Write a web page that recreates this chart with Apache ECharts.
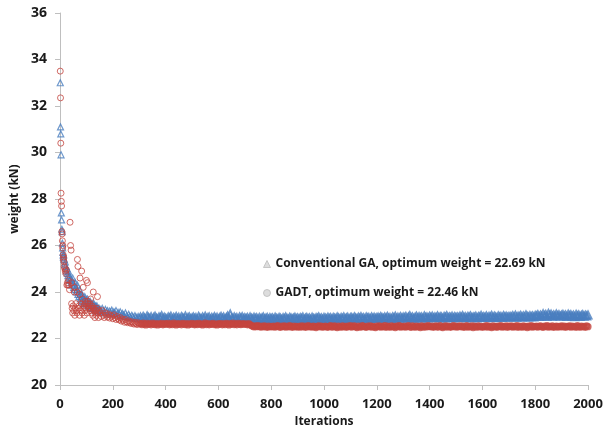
<!DOCTYPE html>
<html><head><meta charset="utf-8">
<script src="https://cdn.jsdelivr.net/npm/echarts@6/dist/echarts.min.js"></script>
<style>html,body{margin:0;padding:0;background:#fff}#c{width:608px;height:434px}</style>
</head><body><div id="c"></div>
<script>
const seriesNames = ['Conventional GA, optimum weight = 22.69 kN', 'GADT, optimum weight = 22.46 kN'];
const xTicks = [0, 200, 400, 600, 800, 1000, 1200, 1400, 1600, 1800, 2000];
const yTicks = [20, 22, 24, 26, 28, 30, 32, 34, 36];

// Conventional GA: early iterations
const gaHeadIter = [1,2,3,4,5,6,7,8,9,10,11,12,13,
  14,16,18,20,22,24,26,28,30,32,34,36,38,40,42,44,46,48,50,52,54,56,58,60,62,64,66,68,70,72,74,76,78,80,82,84,86,88,90,92,94,96,98,100,102,104,106,108,110,112,114,116,118,120,122,124,126,128,130,132,134,136,138,140,142,144,146,148,150,
  152,156,160,164,168,172,176,180,184,188,192,196,200,204,208,212,216,220,224,228,232,236,240,244,248,252,256,260,264,268,272,276,280,284,288,292,296,300];
const gaHeadWeight = [33.0,31.1,30.8,29.9,27.4,27.1,26.7,26.6,26.1,25.9,25.7,25.6,25.5,
  25.6,25.4,25.2,25.3,25.1,24.9,25.0,24.8,24.7,24.9,
  24.6,24.7,24.5,24.6,24.4,24.5,24.3,24.6,24.4,24.2,
  24.3,24.1,24.4,24.2,24.0,24.1,24.3,23.9,24.0,23.8,
  24.1,23.9,23.7,23.8,23.9,23.6,23.7,23.8,23.5,23.6,
  23.8,23.5,23.7,23.6,23.5,23.7,23.4,23.6,23.5,23.4,
  23.6,23.3,23.5,23.4,23.5,23.3,23.4,23.5,23.3,23.4,
  23.2,23.4,23.3,23.4,23.2,23.3,23.2,23.3,23.2,
  23.25,23.15,23.3,23.2,23.1,23.25,23.15,23.2,23.05,23.18,23.12,23.22,23.08,23.15,23.1,23.2,23.02,23.12,23.06,23.15,
  22.98,23.08,23.02,22.95,23.1,22.98,22.92,23.04,22.96,22.9,23.0,22.94,22.88,22.98,22.92,22.86,22.95,22.9];

// GADT: early iterations
const gadtHeadIter = [1,2,3,4,5,6,7,8,9,10,11,12,13,14,15,16,
  18,20,22,24,26,28,30,32,34,36,38,40,42,44,46,48,50,52,54,56,58,60,62,64,66,68,70,72,74,76,78,80,82,84,86,88,90,92,94,96,98,100,102,104,106,108,110,112,114,116,118,120,122,124,126,128,130,132,134,136,138,140,142,144,146,148,
  45,55,65,75,85,95,105,115,125,135,
  152,156,160,164,168,172,176,180,184,188,192,196,200,204,208,212,216,220,224,228,232,236,240,244,248,252,256,260,264,268,272,276,280,284,288,292,296,300];
const gadtHeadWeight = [33.5,32.35,30.4,28.25,27.9,27.7,26.6,26.5,26.2,25.9,26.0,25.6,25.4,25.5,25.3,25.1,
  25.0,24.9,24.8,24.95,24.3,24.4,24.3,24.5,24.3,24.1,
  27.0,26.0,25.8,23.5,23.3,23.1,23.4,23.2,24.0,23.0,
  23.3,23.5,23.2,23.1,25.4,25.1,23.3,23.4,23.0,24.6,
  23.2,23.5,24.9,23.1,23.3,24.2,23.4,23.0,23.2,23.5,
  23.3,24.5,23.1,24.4,23.6,23.4,23.3,23.5,23.2,23.7,
  23.3,23.1,23.4,23.0,24.0,23.2,23.3,22.9,23.1,23.2,
  23.0,23.3,23.8,23.1,22.9,23.2,
  24.4,24.2,24.0,23.9,23.7,23.6,23.5,23.4,23.3,23.2,
  23.1,22.95,23.2,23.0,22.9,23.1,23.0,22.92,23.05,22.88,23.0,22.95,22.85,23.02,22.9,22.82,22.95,22.86,22.8,22.9,
  22.75,22.84,22.78,22.7,22.82,22.72,22.68,22.76,22.7,22.65,22.72,22.66,22.62,22.7,22.64,22.6,22.68,22.63];

// Later iterations: one reading every 5 iterations from 305 to 2000
const tailStart = 305, tailStep = 5;
const gaTailWeight = [
22.92,22.85,22.95,22.88,22.83,22.97,22.90,22.86,22.94,22.82,22.90,22.96,22.87,22.84,22.93,22.89,22.98,22.85,22.91,22.87,
22.84,22.93,22.88,22.96,22.82,22.90,22.87,22.95,22.85,22.91,22.83,22.94,22.89,22.86,22.97,22.84,22.90,22.92,22.85,22.88,
22.93,22.86,22.90,22.83,22.95,22.88,22.84,22.92,22.87,22.96,22.85,22.89,22.93,22.82,22.90,22.87,22.94,22.86,22.91,22.84,
22.89,22.95,22.86,22.92,22.84,22.90,22.97,22.87,23.05,22.88,22.85,22.93,22.86,22.90,22.83,22.92,22.88,22.94,22.85,22.89,
22.86,22.90,22.83,22.92,22.87,22.84,22.91,22.86,22.89,22.82,22.90,22.85,22.88,22.93,22.84,22.87,22.90,22.83,22.89,22.86,
22.88,22.83,22.91,22.86,22.84,22.90,22.87,22.82,22.89,22.85,22.92,22.86,22.83,22.90,22.88,22.84,22.87,22.91,22.85,22.88,
22.84,22.89,22.86,22.92,22.83,22.87,22.90,22.85,22.88,22.82,22.91,22.86,22.84,22.89,22.87,22.93,22.85,22.88,22.83,22.90,
22.87,22.84,22.91,22.86,22.89,22.83,22.90,22.87,22.85,22.92,22.88,22.84,22.90,22.86,22.93,22.85,22.88,22.91,22.84,22.89,
22.90,22.86,22.93,22.88,22.85,22.91,22.87,22.94,22.86,22.89,22.84,22.92,22.88,22.90,22.85,22.93,22.87,22.91,22.86,22.89,
22.91,22.87,22.94,22.89,22.86,22.92,22.88,22.95,22.87,22.90,22.85,22.93,22.89,22.96,22.86,22.91,22.88,22.94,22.87,22.92,
22.89,22.95,22.87,22.92,22.98,22.88,22.93,22.86,22.91,22.96,22.88,22.94,22.89,22.92,22.87,22.97,22.90,22.93,22.88,22.95,
22.91,22.96,22.88,22.93,22.90,22.97,22.89,22.94,22.92,22.87,22.95,22.91,22.98,22.89,22.93,22.90,22.96,22.88,22.94,22.91,
22.93,22.89,22.96,22.91,22.98,22.90,22.94,22.88,22.95,22.92,22.97,22.89,22.93,22.91,22.96,22.88,22.94,22.92,22.99,22.90,
22.94,22.91,22.97,22.89,22.95,22.92,22.99,22.90,22.96,22.93,22.89,22.97,22.92,22.95,22.90,22.98,22.93,22.96,22.91,22.94,
22.95,22.92,22.98,22.93,23.00,22.91,22.96,22.94,22.99,22.92,22.97,22.93,23.01,22.95,22.92,22.98,22.94,22.97,22.93,22.99,
22.97,23.02,22.95,23.00,22.96,23.06,22.98,23.03,22.95,23.08,22.99,23.04,22.96,23.01,22.97,23.05,22.98,23.02,22.96,23.00,
23.03,22.97,23.01,22.95,23.04,22.98,23.02,22.96,23.00,22.94,23.03,22.97,23.01,22.95,22.99,23.02,22.96,23.00,22.97,23.01];
const gadtTailWeight = [
22.64,22.60,22.66,22.62,22.58,22.65,22.61,22.63,22.59,22.66,22.62,22.60,22.64,22.58,22.63,22.61,22.65,22.59,22.62,22.64,
22.61,22.65,22.59,22.63,22.60,22.66,22.62,22.58,22.64,22.61,22.63,22.59,22.65,22.62,22.60,22.64,22.58,22.63,22.61,22.65,
22.62,22.59,22.64,22.60,22.65,22.61,22.63,22.58,22.62,22.66,22.60,22.64,22.59,22.63,22.61,22.65,22.60,22.62,22.58,22.64,
22.61,22.64,22.59,22.63,22.60,22.65,22.62,22.58,22.64,22.61,22.66,22.60,22.63,22.59,22.65,22.62,22.60,22.64,22.61,22.63,
22.62,22.59,22.64,22.60,22.56,22.53,22.50,22.54,22.51,22.55,22.52,22.49,22.53,22.50,22.54,22.51,22.48,22.53,22.50,22.52,
22.50,22.53,22.49,22.52,22.55,22.50,22.48,22.53,22.51,22.54,22.49,22.52,22.50,22.55,22.51,22.48,22.53,22.50,22.52,22.49,
22.52,22.49,22.54,22.50,22.53,22.48,22.51,22.55,22.50,22.52,22.49,22.53,22.51,22.47,22.52,22.54,22.50,22.53,22.49,22.51,
22.53,22.50,22.48,22.52,22.55,22.49,22.51,22.54,22.50,22.47,22.53,22.51,22.49,22.54,22.50,22.52,22.48,22.53,22.51,22.55,
22.49,22.52,22.54,22.50,22.47,22.53,22.51,22.49,22.55,22.52,22.50,22.48,22.53,22.51,22.54,22.49,22.52,22.50,22.47,22.53,
22.51,22.54,22.49,22.52,22.50,22.55,22.48,22.53,22.51,22.49,22.54,22.50,22.52,22.47,22.53,22.51,22.55,22.49,22.52,22.50,
22.53,22.49,22.52,22.55,22.50,22.48,22.54,22.51,22.49,22.53,22.50,22.52,22.47,22.54,22.51,22.49,22.53,22.50,22.55,22.52,
22.50,22.53,22.48,22.52,22.54,22.49,22.51,22.55,22.50,22.47,22.52,22.54,22.49,22.53,22.51,22.48,22.52,22.55,22.50,22.53,
22.49,22.52,22.54,22.50,22.53,22.48,22.51,22.55,22.49,22.52,22.50,22.54,22.47,22.53,22.51,22.49,22.54,22.50,22.52,22.48,
22.52,22.50,22.55,22.49,22.53,22.51,22.47,22.54,22.50,22.52,22.48,22.53,22.51,22.55,22.49,22.52,22.50,22.54,22.48,22.53,
22.51,22.54,22.49,22.52,22.50,22.55,22.48,22.53,22.51,22.49,22.54,22.50,22.52,22.47,22.53,22.50,22.55,22.49,22.52,22.51,
22.53,22.49,22.52,22.54,22.50,22.48,22.53,22.51,22.55,22.49,22.52,22.50,22.54,22.48,22.51,22.53,22.49,22.52,22.50,22.54,
22.50,22.53,22.48,22.52,22.51,22.54,22.49,22.53,22.50,22.52,22.48,22.55,22.51,22.49,22.53,22.50,22.52,22.48,22.54,22.51];

const headData = (iters, ws) => iters.map((it, i) => [it, ws[i]]);
const tailData = (ws) => ws.map((w, i) => [tailStart + i * tailStep, w]);

const FONT = 'Open Sans';
const txtCol = '#1a1a1a';
const axisCol = '#bfbfbf';
const blue = '#4a7ebf', red = '#c4453f';
const chart = echarts.init(document.getElementById('c'), null, {renderer: 'canvas'});
chart.setOption({
  animation: false,
  backgroundColor: '#ffffff',
  grid: {left: 60, right: 20, top: 13, bottom: 49, containLabel: false},
  legend: {
    orient: 'vertical', left: 258, top: 253, itemGap: 17, itemWidth: 7, itemHeight: 7,
    textStyle: {fontFamily: FONT, fontWeight: 'bold', fontSize: 12, color: txtCol},
    data: [
      {name: seriesNames[0], icon: 'triangle', itemStyle: {color: '#d4d4d4', borderColor: '#bbbbbb', borderWidth: 1}},
      {name: seriesNames[1], icon: 'circle', itemStyle: {color: '#d4d4d4', borderColor: '#bbbbbb', borderWidth: 1}}
    ]
  },
  xAxis: {
    type: 'value', min: xTicks[0], max: xTicks[xTicks.length - 1], interval: 200,
    name: 'Iterations', nameLocation: 'middle', nameGap: 30,
    nameTextStyle: {fontFamily: FONT, fontWeight: 'bold', fontSize: 12, color: txtCol},
    axisLine: {show: true, lineStyle: {color: axisCol, width: 1}},
    axisTick: {show: true, inside: false, length: 5, lineStyle: {color: axisCol}},
    axisLabel: {fontFamily: FONT, fontWeight: 'bold', fontSize: 13, color: txtCol, margin: 13,
      formatter: (v) => String(v)},
    splitLine: {show: false}
  },
  yAxis: {
    type: 'value', min: yTicks[0], max: yTicks[yTicks.length - 1], interval: 2,
    name: 'weight (kN)', nameLocation: 'middle', nameGap: 38,
    nameTextStyle: {fontFamily: FONT, fontWeight: 'bold', fontSize: 12, color: txtCol},
    axisLine: {show: true, lineStyle: {color: axisCol, width: 1}},
    axisTick: {show: true, inside: false, length: 5, lineStyle: {color: axisCol}},
    axisLabel: {fontFamily: FONT, fontWeight: 'bold', fontSize: 14, color: txtCol, margin: 13,
      formatter: (v) => String(v)},
    splitLine: {show: false}
  },
  series: [
    {
      name: seriesNames[0], type: 'scatter', symbol: 'triangle', symbolSize: 6,
      data: headData(gaHeadIter, gaHeadWeight),
      itemStyle: {color: 'rgba(0,0,0,0)', borderColor: blue, borderWidth: 1.2},
      emphasis: {disabled: true}
    },
    {
      name: seriesNames[0], type: 'scatter', symbol: 'triangle', symbolSize: 7,
      data: tailData(gaTailWeight),
      itemStyle: {color: 'rgba(0,0,0,0)', borderColor: blue, borderWidth: 2},
      emphasis: {disabled: true}
    },
    {
      name: seriesNames[1], type: 'scatter', symbol: 'circle', symbolSize: 6,
      data: headData(gadtHeadIter, gadtHeadWeight),
      itemStyle: {color: 'rgba(0,0,0,0)', borderColor: red, borderWidth: 1},
      emphasis: {disabled: true}
    },
    {
      name: seriesNames[1], type: 'scatter', symbol: 'circle', symbolSize: 5,
      data: tailData(gadtTailWeight),
      itemStyle: {color: 'rgba(0,0,0,0)', borderColor: red, borderWidth: 2.2},
      emphasis: {disabled: true}
    }
  ]
});
</script></body></html>
